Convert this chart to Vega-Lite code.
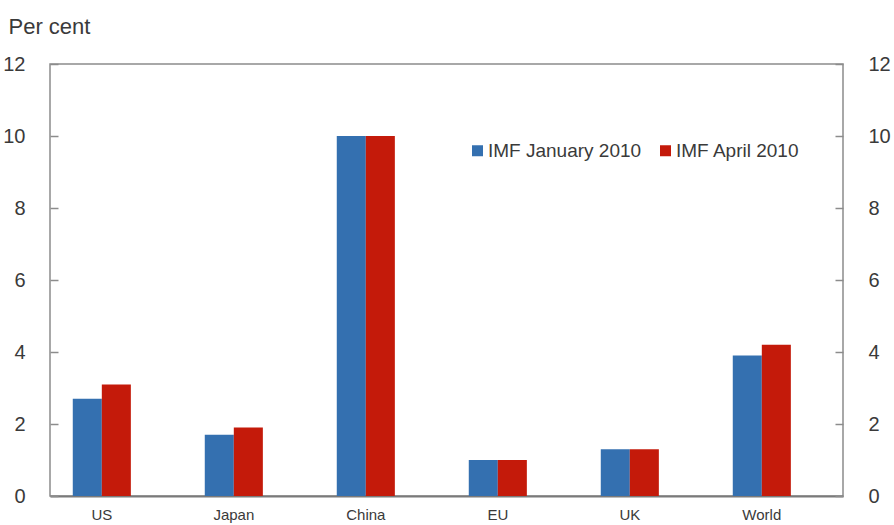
{
  "$schema": "https://vega.github.io/schema/vega-lite/v6.json",
  "width": 793,
  "height": 432,
  "autosize": {"type": "none"},
  "padding": {"left": 50, "top": 64, "right": 51, "bottom": 29},
  "background": "white",
  "config": {
    "font": "Liberation Sans",
    "view": {"stroke": "#8c8c8c", "strokeWidth": 1.5},
    "axis": {"labelFont": "Liberation Sans", "titleFont": "Liberation Sans"},
    "legend": {"labelFont": "Liberation Sans"}
  },
  "data": {
    "values": [
      {"region": "US", "forecast": "IMF January 2010", "growth": 2.7},
      {"region": "US", "forecast": "IMF April 2010", "growth": 3.1},
      {"region": "Japan", "forecast": "IMF January 2010", "growth": 1.7},
      {"region": "Japan", "forecast": "IMF April 2010", "growth": 1.9},
      {"region": "China", "forecast": "IMF January 2010", "growth": 10.0},
      {"region": "China", "forecast": "IMF April 2010", "growth": 10.0},
      {"region": "EU", "forecast": "IMF January 2010", "growth": 1.0},
      {"region": "EU", "forecast": "IMF April 2010", "growth": 1.0},
      {"region": "UK", "forecast": "IMF January 2010", "growth": 1.3},
      {"region": "UK", "forecast": "IMF April 2010", "growth": 1.3},
      {"region": "World", "forecast": "IMF January 2010", "growth": 3.9},
      {"region": "World", "forecast": "IMF April 2010", "growth": 4.2}
    ]
  },
  "encoding": {
    "x": {
      "field": "region",
      "type": "nominal",
      "sort": ["US", "Japan", "China", "EU", "UK", "World"],
      "scale": {"paddingInner": 0.56, "paddingOuter": 0.2838, "align": 0.304},
      "axis": {
        "title": null,
        "labelAngle": 0,
        "labelFontSize": 15,
        "labelColor": "#3a3a3a",
        "labelPadding": 11,
        "ticks": false,
        "domainColor": "#7a7a7a",
        "domainWidth": 2
      }
    },
    "xOffset": {
      "field": "forecast",
      "type": "nominal",
      "sort": ["IMF January 2010", "IMF April 2010"],
      "scale": {"paddingInner": 0, "paddingOuter": 0}
    },
    "y": {
      "field": "growth",
      "type": "quantitative",
      "scale": {"domain": [0, 12], "nice": false, "zero": true}
    }
  },
  "layer": [
    {
      "mark": {"type": "bar"},
      "encoding": {
        "y": {
          "field": "growth",
          "type": "quantitative",
          "scale": {"domain": [0, 12], "nice": false},
          "axis": {
            "orient": "left",
            "values": [0, 2, 4, 6, 8, 10, 12],
            "grid": false,
            "domain": false,
            "tickSize": -8,
            "tickColor": "#8c8c8c",
            "tickWidth": 1.5,
            "labelFontSize": 20,
            "labelColor": "#3a3a3a",
            "labelPadding": 33,
            "title": "Per cent",
            "titleAngle": 0,
            "titleAlign": "left",
            "titleBaseline": "alphabetic",
            "titleX": -42,
            "titleY": -31,
            "titleFontSize": 22,
            "titleFontWeight": "normal",
            "titleColor": "#3a3a3a"
          }
        },
        "color": {
          "field": "forecast",
          "type": "nominal",
          "sort": ["IMF January 2010", "IMF April 2010"],
          "scale": {"range": ["#3470b0", "#c41a0a"]},
          "legend": {
            "title": null,
            "orient": "none",
            "direction": "horizontal",
            "legendX": 418,
            "legendY": 77,
            "symbolType": "square",
            "symbolSize": 121,
            "symbolStrokeWidth": 0,
            "labelFontSize": 19,
            "labelColor": "#3a3a3a",
            "labelOffset": 1,
            "columnPadding": 14
          }
        }
      }
    },
    {
      "mark": {"type": "bar", "opacity": 0},
      "encoding": {
        "y": {
          "field": "growth",
          "type": "quantitative",
          "scale": {"domain": [0, 12], "nice": false},
          "axis": {
            "orient": "right",
            "values": [0, 2, 4, 6, 8, 10, 12],
            "grid": false,
            "domain": false,
            "tickSize": -8,
            "tickColor": "#8c8c8c",
            "tickWidth": 1.5,
            "labelFontSize": 20,
            "labelColor": "#3a3a3a",
            "labelPadding": 33,
            "title": null
          }
        }
      }
    }
  ],
  "resolve": {"axis": {"y": "independent"}}
}
